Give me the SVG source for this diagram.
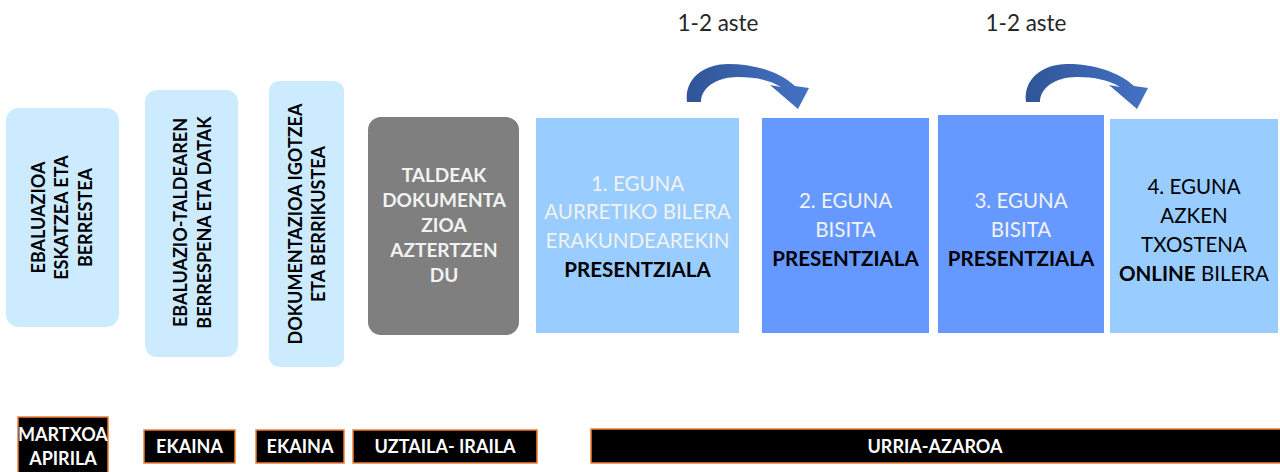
<svg xmlns="http://www.w3.org/2000/svg" width="1280" height="472" viewBox="0 0 1280 472">
<defs>
<style>
.t{font-family:Lato,"Open Sans","Liberation Sans",sans-serif;}
.b{font-weight:bold;}
.lt{fill:#CCEBFF;}
.mid{fill:#99CCFF;}
.dk{fill:#6699FF;}
.wh{fill:#F2F2F2;}
.bk{fill:#000000;}
.lab rect{fill:#000;stroke:#ED7D31;stroke-width:1.5;}
.lab text{fill:#fff;font-weight:bold;font-size:18px;text-anchor:middle;}
.c{text-anchor:middle;}
</style>
<linearGradient id="ag" x1="0" y1="0" x2="1" y2="0">
<stop offset="0" stop-color="#2F5597"/>
<stop offset="1" stop-color="#4472C4"/>
</linearGradient>
<path id="carr" d="M687,102 C684,78 705,64 728,64 C755,64 780,72 795,86 L809,88 L798,109 L770,85 L781,87 C770,80 755,77 738,77 C716,77 701,88 701,102 Z"/>
</defs>
<rect width="1280" height="472" fill="#fff"/>

<g id="n1" class="t">
<rect class="lt" x="6" y="108" width="113" height="219" rx="13"/>
<g transform="translate(62,217.5) rotate(-90)" class="b c" font-size="18">
<text x="0" y="-17">EBALUAZIOA</text>
<text x="0" y="6">ESKATZEA ETA</text>
<text x="0" y="30">BERRESTEA</text>
</g>
</g>

<g id="n2" class="t">
<rect class="lt" x="145" y="90" width="93" height="267" rx="12"/>
<g transform="translate(191.5,222.5) rotate(-90)" class="b c" font-size="18">
<text x="0" y="-4.5">EBALUAZIO-TALDEAREN</text>
<text x="0" y="19.5">BERRESPENA ETA DATAK</text>
</g>
</g>

<g id="n3" class="t">
<rect class="lt" x="269" y="81" width="75" height="286" rx="10"/>
<g transform="translate(306.5,224) rotate(-90)" class="b c" font-size="18">
<text x="0" y="-4.5">DOKUMENTAZIOA IGOTZEA</text>
<text x="0" y="18.5">ETA BERRIKUSTEA</text>
</g>
</g>

<g id="n4" class="t">
<rect x="368" y="117" width="151" height="218" rx="13" fill="#7F7F7F"/>
<g class="b c wh" font-size="19">
<text x="444" y="182">TALDEAK</text>
<text x="444" y="207">DOKUMENTA</text>
<text x="444" y="232">ZIOA</text>
<text x="444" y="257">AZTERTZEN</text>
<text x="444" y="282">DU</text>
</g>
</g>

<g id="n5" class="t">
<rect class="mid" x="536" y="118" width="203" height="215"/>
<g class="c" font-size="20.5">
<text class="wh" x="637.5" y="191">1. EGUNA</text>
<text class="wh" x="637.5" y="219">AURRETIKO BILERA</text>
<text class="wh" x="637.5" y="248">ERAKUNDEAREKIN</text>
<text class="bk b" x="637.5" y="277">PRESENTZIALA</text>
</g>
</g>

<g id="n6" class="t">
<rect class="dk" x="762" y="118" width="167" height="215"/>
<g class="c" font-size="20.5">
<text class="wh" x="845.5" y="208">2. EGUNA</text>
<text class="wh" x="845.5" y="237">BISITA</text>
<text class="bk b" x="845.5" y="266">PRESENTZIALA</text>
</g>
</g>

<g id="n7" class="t">
<rect class="dk" x="938" y="115" width="166" height="218"/>
<g class="c" font-size="20.5">
<text class="wh" x="1021" y="208">3. EGUNA</text>
<text class="wh" x="1021" y="237">BISITA</text>
<text class="bk b" x="1021" y="266">PRESENTZIALA</text>
</g>
</g>

<g id="n8" class="t">
<rect class="mid" x="1110" y="119" width="168" height="214"/>
<g class="c bk" font-size="20.5">
<text x="1194" y="194">4. EGUNA</text>
<text x="1194" y="223">AZKEN</text>
<text x="1194" y="252">TXOSTENA</text>
<text x="1194" y="281"><tspan font-weight="bold">ONLINE</tspan> BILERA</text>
</g>
</g>

<g id="connectors">
<use href="#carr" fill="url(#ag)"/>
<use href="#carr" fill="url(#ag)" transform="translate(339,0)"/>
<text class="t" x="718" y="31" font-size="22.5" fill="#262626" text-anchor="middle">1-2 aste</text>
<text class="t" x="1026" y="31" font-size="22.5" fill="#262626" text-anchor="middle">1-2 aste</text>
</g>

<g id="timeline" class="t lab">
<g id="l1"><rect x="18" y="417" width="90" height="58"/><text x="63" y="441">MARTXOA</text><text x="63" y="465">APIRILA</text></g>
<g id="l2"><rect x="144" y="430" width="91" height="33"/><text x="189.5" y="453">EKAINA</text></g>
<g id="l3"><rect x="256" y="430" width="88" height="33"/><text x="300" y="453">EKAINA</text></g>
<g id="l4"><rect x="353" y="430" width="184" height="33"/><text x="445" y="453">UZTAILA- IRAILA</text></g>
<g id="l5"><rect x="591" y="429" width="692" height="34"/><text x="935" y="453">URRIA-AZAROA</text></g>
</g>
</svg>
